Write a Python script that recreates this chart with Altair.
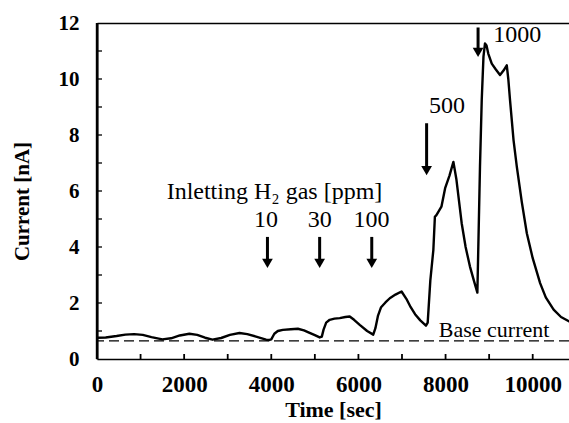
import altair as alt
import pandas as pd

# ---- data ----
time_s = [0, 200, 450, 650, 850, 1050, 1250, 1500, 1700, 1900, 2120, 2300, 2480, 2650,
          2850, 3050, 3270, 3450, 3650, 3880, 3960, 4000, 4070, 4150, 4265, 4450, 4610,
          4750, 4880, 5000, 5110, 5160, 5200, 5260, 5340, 5450, 5570, 5700, 5800, 5900,
          6030, 6200, 6340, 6390, 6450, 6520, 6620, 6720, 6850, 6990, 7100, 7200, 7300,
          7420, 7550, 7590, 7650, 7720, 7755, 7790, 7905, 7990, 8090, 8180, 8250, 8370,
          8460, 8560, 8650, 8730, 8790, 8830, 8870, 8905, 8940, 8980, 9060, 9150, 9250,
          9330, 9405, 9440, 9480, 9560, 9635, 9750, 9865, 10000, 10170, 10300, 10480,
          10650, 10840, 10950]
current_nA = [0.76, 0.77, 0.82, 0.87, 0.89, 0.86, 0.78, 0.70, 0.74, 0.84, 0.90, 0.86, 0.76, 0.69,
              0.75, 0.86, 0.93, 0.89, 0.80, 0.69, 0.68, 0.70, 0.90, 1.00, 1.04, 1.06, 1.08,
              1.02, 0.93, 0.85, 0.77, 0.80, 1.05, 1.30, 1.40, 1.44, 1.46, 1.50, 1.52, 1.40,
              1.22, 1.00, 0.87, 1.10, 1.55, 1.85, 2.02, 2.17, 2.30, 2.41, 2.15, 1.85, 1.60,
              1.38, 1.19, 1.30, 2.80, 3.90, 5.08, 5.14, 5.44, 6.10, 6.55, 7.04, 6.40, 4.85,
              4.00, 3.30, 2.80, 2.37, 6.87, 9.24, 10.80, 11.27, 11.20, 10.91, 10.55, 10.35, 10.14,
              10.30, 10.49, 10.00, 9.24, 7.82, 6.87, 5.60, 4.49, 3.60, 2.71, 2.20, 1.76,
              1.50, 1.34, 1.28]

base_current = [0.65]

arrow_t = [3912, 5110, 6306, 7565, 8746]
arrow_top = [4.36, 4.36, 4.36, 8.42, 11.84]
arrow_tip = [3.25, 3.25, 3.25, 6.56, 10.78]

label_text = ["Inletting H\u2082 gas [ppm]", "10", "30", "100", "500", "1000"]
label_t = [4073, 3880, 5110, 6298, 8033, 9644]
label_I = [5.96, 4.96, 4.96, 4.96, 9.03, 11.56]

base_label = ["Base current"]
base_label_t = [9114]
base_label_I = [1.04]

x_major = [0, 2000, 4000, 6000, 8000, 10000]
y_major = [0, 2, 4, 6, 8, 10, 12]
x_minor = [1000, 2000, 3000, 4000, 5000, 6000, 7000, 8000, 9000, 10000]
y_minor = [1, 2, 3, 4, 5, 6, 7, 8, 9, 10, 11]

X_MAX = 10833
Y_MAX = 12
W, H = 472, 336
FONT = "Liberation Serif"

curve = pd.DataFrame({"t": time_s, "I": current_nA})
arrows = pd.DataFrame({"t": arrow_t, "top": arrow_top, "tip": arrow_tip})
labels = pd.DataFrame({"t": label_t, "I": label_I, "txt": label_text})
blabel = pd.DataFrame({"t": base_label_t, "I": base_label_I, "txt": base_label})
xt = pd.DataFrame({"t": x_minor})
yt = pd.DataFrame({"I": y_minor})
base = pd.DataFrame({"I": base_current})
frame = pd.DataFrame({"t": [0, 0], "I": [0, Y_MAX]})

xs = alt.Scale(domain=[0, X_MAX], nice=False, zero=False)
ys = alt.Scale(domain=[0, Y_MAX], nice=False, zero=False)

line = alt.Chart(curve).mark_line(color="black", strokeWidth=2.4, clip=True,
                                  strokeJoin="round").encode(
    x=alt.X("t:Q", scale=xs, axis=alt.Axis(
        values=x_major, format="d", title="Time [sec]", orient="bottom",
        labelFont=FONT, labelFontWeight="bold", labelFontSize=23, labelColor="black",
        labelPadding=14, tickSize=0, labelOverlap=False, labelFlush=False,
        domain=True, domainColor="black", domainWidth=1.5, grid=False,
        titleFont=FONT, titleFontWeight="bold", titleFontSize=22, titleColor="black",
        titleX=236, titleY=50, titleBaseline="middle", titleAnchor="middle")),
    y=alt.Y("I:Q", scale=ys, axis=alt.Axis(
        values=y_major, format="d", title="Current [nA]", orient="left",
        labelFont=FONT, labelFontWeight="bold", labelFontSize=21, labelColor="black",
        labelPadding=18, tickSize=0, labelOverlap=False, labelFlush=False,
        domain=True, domainColor="black", domainWidth=2, grid=False,
        titleFont=FONT, titleFontWeight="bold", titleFontSize=21, titleColor="black",
        titleX=-75, titleY=178, titleBaseline="middle", titleAnchor="middle")),
)

bottom_ticks = alt.Chart(xt).mark_rule(color="black", strokeWidth=1.8).encode(
    x=alt.X("t:Q", scale=xs, axis=alt.Axis(
        orient="top", labels=False, ticks=False, title=None, grid=False,
        domainColor="black", domainWidth=1.5)),
    y=alt.value(H), y2=alt.value(H - 5),
)

left_ticks = alt.Chart(yt).mark_rule(color="black", strokeWidth=1.3).encode(
    y=alt.Y("I:Q", scale=ys, axis=None),
    x=alt.value(0), x2=alt.value(5),
)

left_frame = alt.Chart(frame).mark_line(color="black", strokeWidth=2.4).encode(
    x=alt.X("t:Q", scale=xs, axis=None),
    y=alt.Y("I:Q", scale=ys, axis=None),
)

base_line = alt.Chart(base).mark_rule(color="black", strokeWidth=1.3, strokeDash=[10, 5]).encode(
    y=alt.Y("I:Q", scale=ys, axis=None),
)

shafts = alt.Chart(arrows).mark_rule(color="black", strokeWidth=3, y2Offset=-5).encode(
    x=alt.X("t:Q", scale=xs, axis=None),
    y=alt.Y("top:Q", scale=ys, axis=None),
    y2="tip:Q",
)

heads = alt.Chart(arrows).mark_point(shape="triangle-down", filled=True, color="black",
                                     opacity=1, size=115, yOffset=-4.7).encode(
    x=alt.X("t:Q", scale=xs, axis=None),
    y=alt.Y("tip:Q", scale=ys, axis=None),
)

texts = alt.Chart(labels).mark_text(font=FONT, fontSize=24, color="black",
                                    align="center", baseline="middle").encode(
    x=alt.X("t:Q", scale=xs, axis=None),
    y=alt.Y("I:Q", scale=ys, axis=None),
    text="txt:N",
)

btext = alt.Chart(blabel).mark_text(font=FONT, fontSize=22, color="black",
                                    align="center", baseline="middle").encode(
    x=alt.X("t:Q", scale=xs, axis=None),
    y=alt.Y("I:Q", scale=ys, axis=None),
    text="txt:N",
)

chart = alt.layer(base_line, line, bottom_ticks, left_ticks, left_frame, shafts, heads,
                  texts, btext).resolve_axis(
    x="independent", y="independent"
).properties(
    width=W, height=H,
    autosize=alt.AutoSizeParams(type="none"),
    padding={"left": 97, "top": 23, "right": 0, "bottom": 64},
    background="white",
).configure_view(stroke=None)

chart.save("out.html", embed_options={"renderer": "svg", "actions": False})
